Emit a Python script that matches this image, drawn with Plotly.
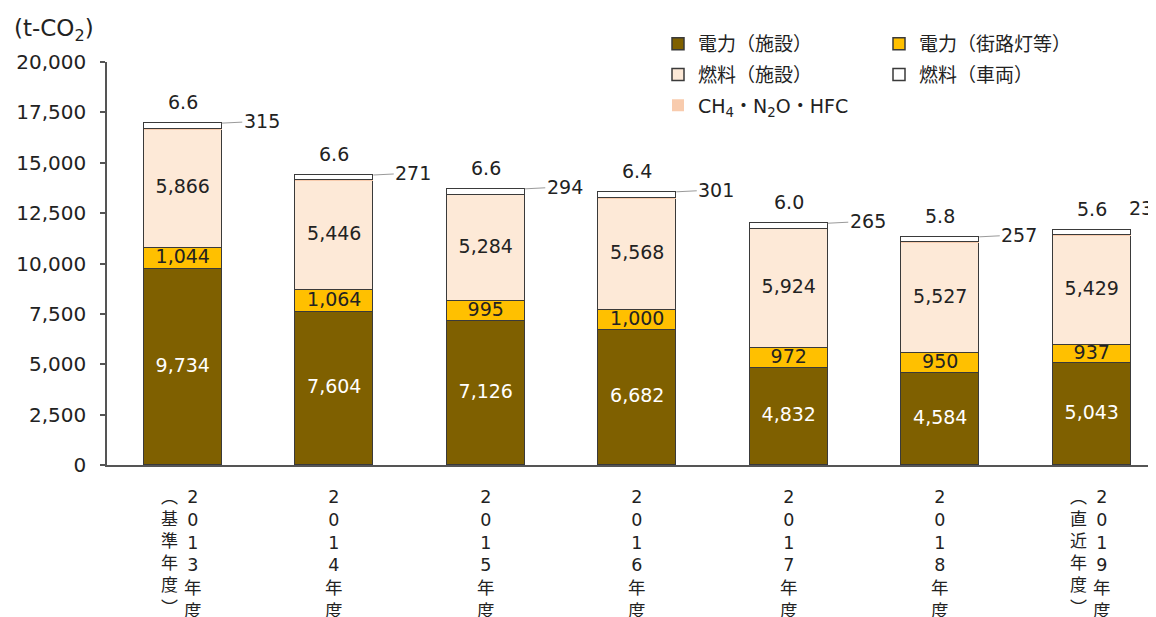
import plotly.graph_objects as go

# ---- data ----
years = ["2013", "2014", "2015", "2016", "2017", "2018", "2019"]
year_suffix = "年度"
year_notes = ["基準年度", "", "", "", "", "", "直近年度"]

elec_facility = [9734, 7604, 7126, 6682, 4832, 4584, 5043]
elec_street = [1044, 1064, 995, 1000, 972, 950, 937]
fuel_facility = [5866, 5446, 5284, 5568, 5924, 5527, 5429]
fuel_vehicle = [315, 271, 294, 301, 265, 257, 235]
other_gas = [6.6, 6.6, 6.6, 6.4, 6.0, 5.8, 5.6]

y_ticks = [0, 2500, 5000, 7500, 10000, 12500, 15000, 17500, 20000]

# ---- style ----
FONT = "DejaVu Sans, Noto Sans CJK JP, sans-serif"
CJK = "Noto Sans CJK JP, sans-serif"
TXT = "#222222"
EDGE = "#3a3a3a"
AXIS = "#555555"
BAR_W = 0.515
C_ELEC_FAC = "#7f6000"
C_ELEC_ST = "#ffc000"
C_FUEL_FAC = "#fde9d7"
C_FUEL_VEH = "#ffffff"
C_OTHER = "#f8cbad"

# page body has an 8px margin; the figure is sized so it ends at the window edge
OFF = 8
W, H = 1156 - OFF, 617 - OFF
# plot area in window pixels: x 107..1156, y 62..465
L, R, T, B = 107 - OFF, 0, 62 - OFF, 617 - 465
plot_w = W - L - R
plot_h = H - T - B


def px_to_paper_x(px):
    return (px - OFF - L) / plot_w


def px_to_paper_y(py):
    return (T + plot_h - (py - OFF)) / plot_h


x = list(range(len(years)))

fig = go.Figure()

# stacking order (bottom -> top); the tiny CH4 layer sits under the vehicle layer
series = [
    ("電力（施設）", elec_facility, C_ELEC_FAC, "legend", 1.5),
    ("電力（街路灯等）", elec_street, C_ELEC_ST, "legend2", 1.5),
    ("燃料（施設）", fuel_facility, C_FUEL_FAC, "legend", 1.5),
    ("CH<sub>4</sub>・N<sub>2</sub>O・HFC", other_gas, C_OTHER, "legend", 0),
    ("燃料（車両）", fuel_vehicle, C_FUEL_VEH, "legend2", 1.5),
]

for k, (name, vals, col, lg, lw) in enumerate(series):
    fig.add_trace(go.Bar(
        x=x, y=vals, name=name, width=BAR_W,
        marker=dict(color=col, line=dict(color=EDGE, width=lw)),
        legend=lg, legendgroup=f"g{k}", hoverinfo="skip",
    ))

# inside labels via text traces at segment middles
base = [0] * len(x)
label_series = [
    (elec_facility, "#ffffff"),
    (elec_street, TXT),
    (fuel_facility, TXT),
]
for vals, tcol in label_series:
    mids = [b + v / 2 for b, v in zip(base, vals)]
    fig.add_trace(go.Scatter(
        x=x, y=mids, mode="text",
        text=[f"{v:,}" for v in vals],
        textfont=dict(family=FONT, size=19, color=tcol),
        showlegend=False, hoverinfo="skip",
    ))
    base = [b + v for b, v in zip(base, vals)]

tops = [b + fv + og for b, fv, og in zip(base, fuel_vehicle, other_gas)]

annotations = []
# other gases label above bar
for i, (t, og) in enumerate(zip(tops, other_gas)):
    annotations.append(dict(
        x=i, y=t, text=f"{og:.1f}", showarrow=False, yshift=21,
        font=dict(family=FONT, size=19, color=TXT),
    ))
# vehicle fuel label to the right with leader line
for i, t in enumerate(tops):
    last = i == len(x) - 1
    annotations.append(dict(
        x=i + BAR_W / 2, y=t, text=f"{fuel_vehicle[i]:,}",
        showarrow=not last, arrowhead=0, arrowwidth=1, arrowcolor="#9a9a9a",
        ax=40, ay=-2, xanchor="left" if last else "center",
        xshift=-4 if last else 0, yshift=22 if last else 0,
        font=dict(family=FONT, size=19, color=TXT),
    ))
# vertical category labels
for i, (yr, note) in enumerate(zip(years, year_notes)):
    annotations.append(dict(
        x=i, y=0, yanchor="top", xanchor="center",
        text="<br>".join(list(yr + year_suffix)),
        showarrow=False, xshift=10 if note else 0, yshift=-20,
        font=dict(family=FONT, size=17.5, color=TXT),
    ))
    if note:
        annotations.append(dict(
            x=i, y=0, yanchor="top", xanchor="center",
            text="<br>".join(["︵"] + list(note) + ["︶"]),
            showarrow=False, xshift=-13, yshift=-16,
            font=dict(family=CJK, size=17, color=TXT),
        ))
# unit label
annotations.append(dict(
    x=px_to_paper_x(12), y=px_to_paper_y(30), xref="paper", yref="paper",
    xanchor="left", yanchor="middle",
    text="(t-CO<sub>2</sub>)", showarrow=False,
    font=dict(family=FONT, size=23, color=TXT),
))

legend_common = dict(
    xref="paper", yref="paper", orientation="v", traceorder="grouped",
    font=dict(family=FONT, size=19, color=TXT),
    bgcolor="rgba(0,0,0,0)", itemwidth=30, tracegroupgap=3,
    xanchor="left", yanchor="top",
)

fig.update_layout(
    width=W, height=H,
    margin=dict(l=L, r=R, t=T, b=B, autoexpand=False),
    barmode="stack", bargap=0,
    paper_bgcolor="white", plot_bgcolor="white",
    font=dict(family=FONT, size=18, color=TXT),
    annotations=annotations,
    legend=dict(x=px_to_paper_x(658), y=px_to_paper_y(17 + OFF), **legend_common),
    legend2=dict(x=px_to_paper_x(879), y=px_to_paper_y(17 + OFF), **legend_common),
)

fig.update_xaxes(
    range=[-0.5, -0.5 + plot_w / 151.5],
    tickmode="array", tickvals=x, showticklabels=False,
    showline=True, linecolor=AXIS, linewidth=1.5,
    ticks="", showgrid=False, zeroline=False, automargin=False,
)
fig.update_yaxes(
    range=[0, 20000], tickmode="array", tickvals=y_ticks,
    ticktext=[f"{v:,}" for v in y_ticks],
    showline=True, linecolor=AXIS, linewidth=1.5,
    ticks="outside", ticklen=5, tickcolor=AXIS, tickwidth=1.5,
    tickfont=dict(family=FONT, size=20, color=TXT),
    showgrid=False, zeroline=False, ticklabelstandoff=10, automargin=False,
)

fig.write_html("out.html")
